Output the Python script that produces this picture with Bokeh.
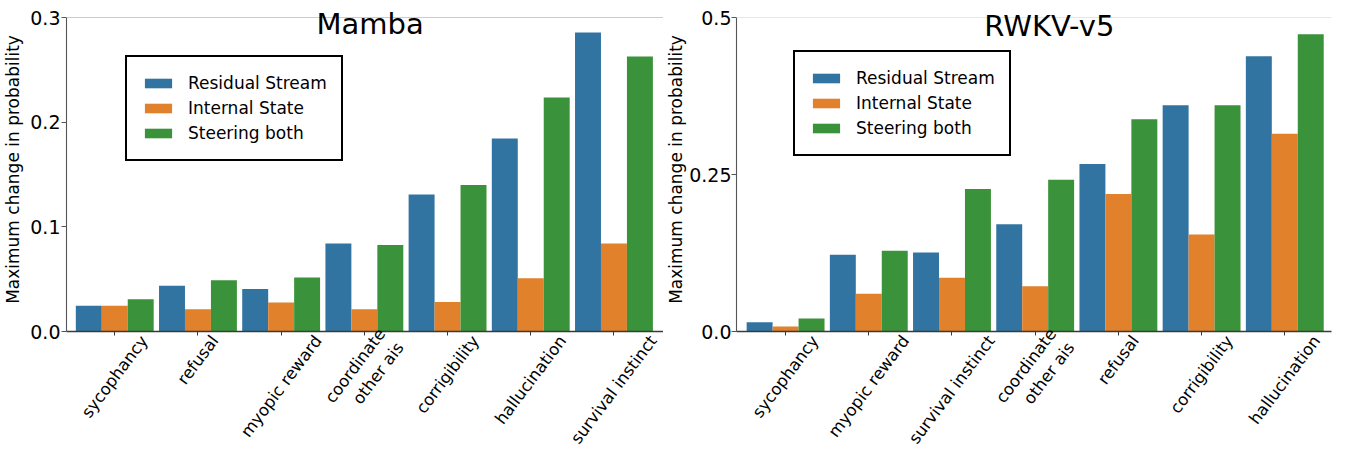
import math
from bokeh.plotting import figure
from bokeh.models import (ColumnDataSource, Range1d, FixedTicker, Legend, LegendItem,
                          Label, Span, LinearAxis)
from bokeh.layouts import row
from bokeh.embed import file_html
from bokeh.resources import INLINE
from bokeh.transform import dodge

# ---------------- data ----------------
series_names = ["Residual Stream", "Internal State", "Steering both"]
series_colors = ["#3274A1", "#E1812C", "#3A923A"]

mamba_categories = ["sycophancy", "refusal", "myopic reward", "coordinate\nother ais",
                    "corrigibility", "hallucination", "survival instinct"]
mamba_residual = [0.0245, 0.0436, 0.0407, 0.0840, 0.1310, 0.1845, 0.2856]
mamba_internal = [0.0245, 0.0213, 0.0277, 0.0213, 0.0283, 0.0509, 0.0840]
mamba_both = [0.0309, 0.0490, 0.0515, 0.0827, 0.1400, 0.2236, 0.2627]
mamba_yticks = [0.0, 0.1, 0.2, 0.3]
mamba_ytick_labels = ["0.0", "0.1", "0.2", "0.3"]

rwkv_categories = ["sycophancy", "myopic reward", "survival instinct", "coordinate\nother ais",
                   "refusal", "corrigibility", "hallucination"]
rwkv_residual = [0.0148, 0.1222, 0.1259, 0.1709, 0.2667, 0.3603, 0.4381]
rwkv_internal = [0.0079, 0.0603, 0.0857, 0.0720, 0.2190, 0.1545, 0.3148]
rwkv_both = [0.0206, 0.1286, 0.2270, 0.2418, 0.3381, 0.3603, 0.4735]
rwkv_yticks = [0.0, 0.25, 0.5]
rwkv_ytick_labels = ["0.0", "0.25", "0.5"]

y_label = "Maximum change in probability"

# ---------------- style helpers ----------------
FONT = "DejaVu Sans"
TICK_FS = 16.5
ANG = math.radians(53)
BAR_W = 0.312
PX_PER_UNIT = 83.2
AXES_H = 314          # height of the axes box (0 .. top tick)
HEADROOM = 10         # extra frame space above the top tick so the title is not clipped
# approximate DejaVu Sans advance widths (em) used to centre rotated tick labels
DV = {" ": .318, "a": .613, "b": .635, "c": .550, "d": .635, "e": .615, "f": .352,
      "g": .635, "h": .634, "i": .278, "l": .278, "m": .974, "n": .634, "o": .612,
      "p": .635, "r": .411, "s": .521, "t": .392, "u": .634, "v": .592, "w": .818,
      "y": .592}


def label_shift_px(lab, fs):
    lines = lab.split("\n")
    L = max(sum(DV.get(c, .6) for c in ln) for ln in lines) * fs
    return 0.5 * L * math.cos(ANG)


def make_panel(title, cats, res, intl, both, yticks, ylabels, x_start, ytop,
               frame_w, border_left, border_right, border_top,
               legend_loc, title_x, title_y, top_line_color, ylab_standoff, tick_standoff):
    n = len(cats)
    idx = list(range(n))
    src = ColumnDataSource(dict(idx=idx, res=res, intl=intl, both=both))
    xr = (x_start, x_start + frame_w / PX_PER_UNIT)
    p = figure(frame_width=frame_w, frame_height=AXES_H + HEADROOM,
               x_range=Range1d(*xr),
               y_range=Range1d(0, ytop * (AXES_H + HEADROOM) / AXES_H),
               min_border_left=border_left, min_border_right=border_right,
               min_border_top=border_top, min_border_bottom=0,
               output_backend="svg", toolbar_location=None,
               background_fill_color="white", border_fill_color="white")
    p.outline_line_color = None
    p.xgrid.visible = False
    p.ygrid.visible = False

    renderers = []
    for field, off, col in zip(["res", "intl", "both"], [-BAR_W, 0, BAR_W], series_colors):
        r = p.vbar(x=dodge("idx", off), top=field, width=BAR_W, bottom=0, source=src,
                   fill_color=col, line_color=None)
        renderers.append(r)

    p.add_layout(Span(location=ytop, dimension="width", line_color=top_line_color,
                      line_width=1))

    # x axis: line + tick marks at group centres, no labels
    xa = p.xaxis[0]
    xa.ticker = FixedTicker(ticks=idx)
    xa.major_label_overrides = {i: "" for i in idx}
    xa.major_label_text_font_size = "1px"
    xa.major_label_standoff = 0
    xa.axis_line_color = "#3a3a3a"
    xa.axis_line_width = 1.4
    xa.major_tick_line_color = "#3a3a3a"
    xa.major_tick_out = 4
    xa.major_tick_in = 0
    xa.minor_tick_out = 0
    xa.minor_tick_in = 0

    # second axis carrying the rotated category labels, shifted so that each
    # rotated label is centred under its group (as in the original)
    pos = [i + label_shift_px(c, TICK_FS) / PX_PER_UNIT for i, c in zip(idx, cats)]
    la = LinearAxis(ticker=FixedTicker(ticks=pos),
                    major_label_overrides=dict(zip(pos, cats)),
                    major_label_orientation=ANG,
                    major_label_text_font=FONT,
                    major_label_text_font_size=f"{TICK_FS}px",
                    major_label_text_color="black",
                    major_label_standoff=2,
                    axis_line_color=None, major_tick_line_color=None,
                    minor_tick_line_color=None, major_tick_out=0, major_tick_in=0)
    p.add_layout(la, "below")

    # y axis
    ya = p.yaxis[0]
    ya.bounds = (0, ytop)
    ya.ticker = FixedTicker(ticks=yticks)
    ya.major_label_overrides = dict(zip(yticks, ylabels))
    ya.major_label_text_font = FONT
    ya.major_label_text_font_size = "19px"
    ya.major_label_text_color = "black"
    ya.major_label_standoff = tick_standoff
    ya.axis_line_color = "#555555"
    ya.axis_line_width = 1.1
    ya.major_tick_line_color = "#555555"
    ya.major_tick_out = 5
    ya.major_tick_in = 0
    ya.minor_tick_out = 0
    ya.minor_tick_in = 0
    ya.axis_label = y_label
    ya.axis_label_text_font = FONT
    ya.axis_label_text_font_size = "17px"
    ya.axis_label_text_font_style = "normal"
    ya.axis_label_text_color = "black"
    ya.axis_label_standoff = ylab_standoff

    # title inside the axes
    p.add_layout(Label(x=title_x, y=title_y, text=title, text_align="center",
                       text_baseline="alphabetic", text_font=FONT,
                       text_font_size="29px", text_color="black"))

    legend = Legend(items=[LegendItem(label=nm, renderers=[r])
                           for nm, r in zip(series_names, renderers)],
                    location=legend_loc, orientation="vertical",
                    border_line_color="black", border_line_width=2.5,
                    border_line_alpha=1.0,
                    background_fill_color="white", background_fill_alpha=1.0,
                    padding=14, spacing=1, margin=0,
                    glyph_width=34, glyph_height=12, label_height=24,
                    label_standoff=13, label_text_font=FONT,
                    label_text_font_size="17px", label_text_color="black")
    p.add_layout(legend)
    return p


p1 = make_panel("Mamba", mamba_categories, mamba_residual, mamba_internal, mamba_both,
                mamba_yticks, mamba_ytick_labels, -0.58, 0.3,
                597, 59, 0, 16 - HEADROOM, (59, 170), 3.07, 0.3 * 0.9796, "#cccccc", 4, 1)
p2 = make_panel("RWKV-v5", rwkv_categories, rwkv_residual, rwkv_internal, rwkv_both,
                rwkv_yticks, rwkv_ytick_labels, -0.59, 0.5,
                595, 67, 10, 17 - HEADROOM, (57, 175), 3.17, 0.5 * 0.9717, "#e6e6e6", 0, 0)

layout = row(p1, p2)
open("out.html", "w").write(file_html(layout, INLINE))
